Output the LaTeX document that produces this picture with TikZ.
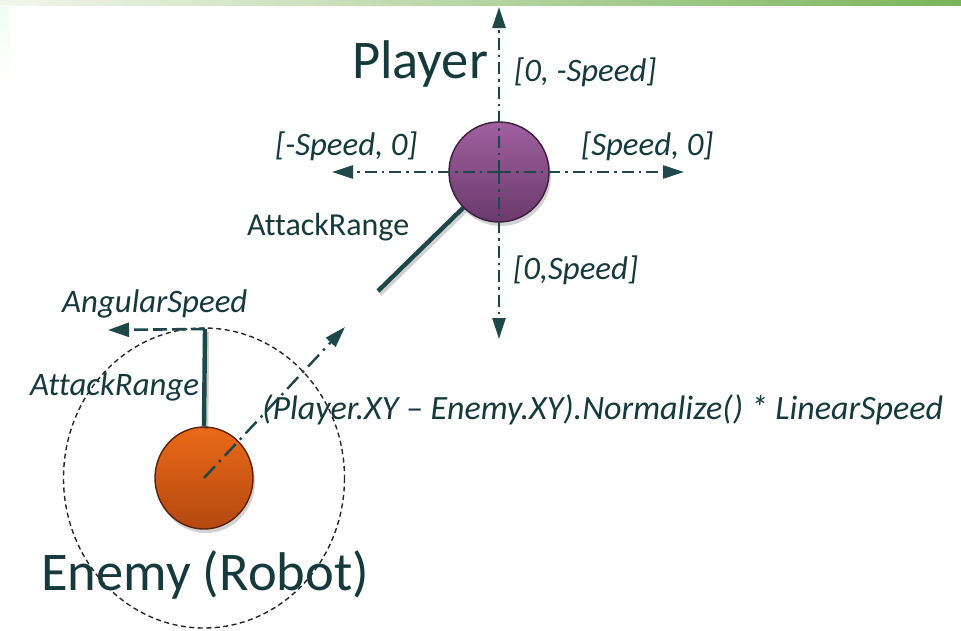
\documentclass[tikz,border=0pt]{standalone}
\usepackage{fontspec}
\setmainfont[Ligatures={NoCommon}]{Carlito}
\usetikzlibrary{arrows.meta,shadows,shapes.geometric}

\definecolor{ink}{HTML}{163A3C}
\definecolor{linec}{HTML}{1D4748}
\definecolor{plTop}{HTML}{A060A0}
\definecolor{plBot}{HTML}{6A3A6C}
\definecolor{plEdge}{HTML}{3A1E3C}
\definecolor{enTop}{HTML}{EA6A18}
\definecolor{enBot}{HTML}{B44810}
\definecolor{enEdge}{HTML}{5A2208}
\definecolor{barL}{HTML}{F2F6EC}
\definecolor{barR}{HTML}{7AB45A}

\tikzset{
  axis/.style={draw=linec, line width=2.4pt,
    dash pattern=on 12pt off 5pt on 2.5pt off 5pt,
    -{Triangle[length=21pt,width=13pt]}},
  dirarrow/.style={draw=linec, line width=2.4pt,
    dash pattern=on 16pt off 6pt on 2.5pt off 6pt,
    -{Triangle[length=21pt,width=13pt]}},
  angarrow/.style={draw=linec, line width=2.6pt,
    dash pattern=on 14pt off 5pt,
    -{Triangle[length=21pt,width=14pt]}},
  rangeline/.style={draw=linec, line width=4.4pt},
  rangeshadow/.style={draw=black, line width=4.5pt, opacity=0.18},
  bigtxt/.style={text=ink, font=\fontsize{54.5}{60}\selectfont, inner sep=0pt},
  lbl/.style={text=ink, font=\fontsize{32.8}{38}\selectfont\itshape, inner sep=0pt},
  lbllong/.style={text=ink, font=\fontsize{34}{40}\selectfont\itshape, inner sep=0pt},
  lblup/.style={text=ink, font=\fontsize{32}{38}\selectfont, inner sep=0pt},
  ball/.style={draw, line width=1.4pt, inner sep=0pt,
    drop shadow={opacity=0.35, shadow xshift=2pt, shadow yshift=-4pt}},
}

\begin{document}
\begin{tikzpicture}[x=1pt, y=-1pt]
\useasboundingbox (0,0) rectangle (961,630);
\fill[white] (0,0) rectangle (961,630);

% slide decoration: green bar along the top and faint strip at the left
\shade[left color=barL, right color=barR] (0,0) rectangle (961,5);
\shade[top color=barL!70!green!15, bottom color=white] (0,5) rectangle (10,92);

% the two actors
\node[ball, circle, minimum size=100pt, draw=plEdge,
      top color=plTop, bottom color=plBot] (player) at (499,172) {};
\node[ball, ellipse, minimum width=98pt, minimum height=102pt, draw=enEdge,
      top color=enTop, bottom color=enBot] (enemy) at (204,478) {};

% enemy attack radius
\draw[black!85, line width=1.4pt, dash pattern=on 5pt off 3.5pt]
  (enemy.center) ellipse [x radius=140.5, y radius=150];

% player movement axes
\coordinate (ptop)   at (499,7);
\coordinate (pbot)   at (499,339);
\coordinate (pleft)  at (332,172);
\coordinate (pright) at (684,172);
\draw[axis] (player.center) -- (ptop);
\draw[axis] (player.center) -- (pbot);
\draw[axis] (player.center) -- (pleft);
\draw[axis] (player.center) -- (pright);

% player attack range
\coordinate (prange) at (378,291);
\draw[rangeshadow, transform canvas={shift={(2pt,-3pt)}}] (player.225) -- (prange);
\draw[rangeline] (player.225) -- (prange);

% enemy attack range and angular speed
\coordinate (etop) at (205,329);
\coordinate (angtip) at (108,330);
\draw[rangeshadow, transform canvas={shift={(2pt,-3pt)}}] (enemy.north) -- (etop);
\draw[rangeline] (enemy.north) -- (etop);
\draw[angarrow] (etop) -- (angtip);

% enemy heading towards the player
\coordinate (dirtip) at (345,327);
\draw[dirarrow] (enemy.center) -- (dirtip);

% labels
\node[bigtxt, anchor=base] (tplayer) at (420,78) {Player};
\node[bigtxt, anchor=base] (tenemy) at (205,590) {Enemy (Robot)};
\node[lbl, anchor=base west] (tup) at (514,81) {[0, -Speed]};
\node[lbl, anchor=base west] (tleft) at (275,155) {[-Speed, 0]};
\node[lbl, anchor=base west] (tright) at (581,155) {[Speed, 0]};
\node[lbl, anchor=base west] (tdown) at (513,279) {[0,Speed]};
\node[lblup, anchor=base west] (trangep) at (247,235) {AttackRange};
\node[lbl, anchor=base west] (tang) at (62,312) {AngularSpeed};
\node[lbl, anchor=base west] (trangee) at (30,395) {AttackRange};
\node[lbllong, anchor=base west] (tdir) at (262,419)
  {(Player.XY – Enemy.XY).Normalize() * LinearSpeed};
\end{tikzpicture}
\end{document}
